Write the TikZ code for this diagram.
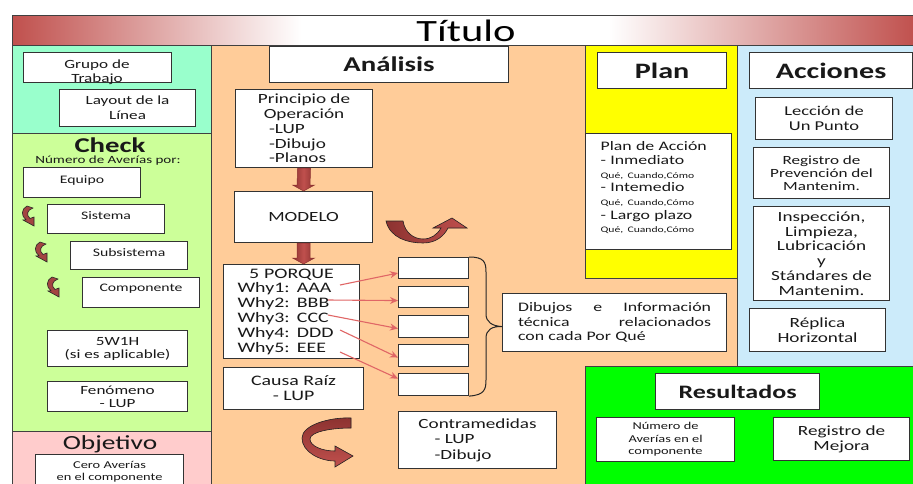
\documentclass[tikz,border=0pt]{standalone}
\usepackage{fontspec}
\setmainfont{Carlito}[FakeStretch=1.37]
\usetikzlibrary{calc,arrows.meta}
\definecolor{rd}{HTML}{C0504D}
\definecolor{rdd}{HTML}{8C3230}
\definecolor{mint}{HTML}{99FFCC}
\definecolor{lgreen}{HTML}{CCFF99}
\definecolor{pinkc}{HTML}{FFCCCC}
\definecolor{peach}{HTML}{FFCC99}
\definecolor{yel}{HTML}{FFFF00}
\definecolor{lblue}{HTML}{CCEBFA}
\definecolor{bgreen}{HTML}{00FF00}
\definecolor{arr}{HTML}{E06666}
\pgfdeclarehorizontalshading{titlesh}{100bp}{color(0bp)=(rd); color(25bp)=(rd); color(41bp)=(white); color(58bp)=(white); color(75bp)=(rd); color(100bp)=(rd)}
\newcommand\myfs[2]{\fontsize{#1}{#2}\selectfont}
\newcommand\blkarrow[2]{%
  \path[blockarrow] ([xshift=-6.5pt]#1) -- ([xshift=-6.5pt,yshift=6pt]#2) -- ([xshift=-11pt,yshift=6pt]#2) -- (#2) -- ([xshift=11pt,yshift=6pt]#2) -- ([xshift=6.5pt,yshift=6pt]#2) -- ([xshift=6.5pt]#1) -- cycle;}
\begin{document}
\begin{tikzpicture}[x=1pt,y=-1pt,
  box/.style={draw=black!80, line width=1.1pt, fill=white, inner sep=0pt, anchor=north west, align=center, text=black!90},
  sect/.style={draw=black!75, line width=0.8pt},
  whyarrow/.style={draw=arr, line width=1.1pt, -{Stealth[length=8pt,width=7pt]}},
  ribbon/.style={draw=black!85, line width=0.6pt, fill=rd},
  blockarrow/.style={draw=rdd, line width=0.5pt, left color=rdd, right color=rdd, middle color=rd},
  carrow/.pic={\filldraw[ribbon, fill=rd!85!black] (5,0) -- (11,2) .. controls (5,4) and (4,9) .. (8,12.5) -- (12,11) -- (12,20) -- (1,14) -- (4,13.8) .. controls (-1,10) and (-1,3) .. (5,0) -- cycle;}
]
\useasboundingbox (0,0) rectangle (913,483);
\fill[white] (0,0) rectangle (913,483);
% sections
\path[sect, fill=peach] (211,45) rectangle (737,490);
\path[sect, fill=mint] (12,45) rectangle (211,133);
\path[sect, fill=lgreen] (12,133) rectangle (211,431);
\path[sect, fill=pinkc] (12,431) rectangle (211,490);
\path[sect, fill=yel] (585,45) rectangle (737,278);
\path[sect, fill=lblue] (737,45) rectangle (916,366);
\path[sect, fill=bgreen] (585,366) rectangle (916,490);
\path[sect, shading=titlesh] (12,15) rectangle (916,45);
\draw[black!75, line width=0.8pt] (12,15) rectangle (916,45);
\node[font=\myfs{31}{31}, text=black] (title) at (466,31) {Título};

% left column
\node[box, minimum width=148pt, minimum height=30pt] (grupo) at (23,52) {};
\node[font=\myfs{12.5}{14}, align=center, text=black!90] (grupot) at (97,72) {Grupo de\\Trabajo};
\node[box, minimum width=136pt, minimum height=37pt, font=\myfs{12.5}{15}] (layout) at (59,89) {Layout de la\\Línea};
\node[font=\bfseries\myfs{21}{21}, text=black!90] (check) at (110,145) {Check};
\node[font=\myfs{11}{11}, text=black!90] (numav) at (108,161) {Número de Averías por:};
\node[box, minimum width=117pt, minimum height=30pt, font=\myfs{11.5}{12}] (equipo) at (23,167) {Equipo\\[-5pt]\mbox{}};
\node[box, minimum width=117pt, minimum height=29pt, font=\myfs{11.5}{12}] (sistema) at (47,204) {Sistema\\[-5pt]\mbox{}};
\node[box, minimum width=117pt, minimum height=28pt, font=\myfs{11.5}{12}] (subsis) at (70,241) {Subsistema\\[-5pt]\mbox{}};
\node[box, minimum width=117pt, minimum height=30pt, font=\myfs{11.5}{12}] (comp) at (82,277) {Componente\\[-3pt]\mbox{}};
\pic at (22,206) {carrow};
\pic at (35,242) {carrow};
\pic at (47,277) {carrow};
\node[box, minimum width=140pt, minimum height=36pt, font=\myfs{12.5}{13}] (w1h) at (47,330) {5W1H\\(si es aplicable)};
\node[box, minimum width=140pt, minimum height=30pt, font=\myfs{12.5}{13}] (fen) at (47,381) {Fenómeno\\- LUP};
\node[font=\myfs{20}{20}, text=black!90] (objt) at (110,444) {Objetivo};
\node[box, minimum width=148pt, minimum height=34pt, font=\myfs{10.5}{12}] (cero) at (35,454) {Cero Averías\\en el componente};

% analysis
\node[box, minimum width=239pt, minimum height=36pt, font=\bfseries\myfs{21}{21}] (anal) at (269,46) {Análisis};
\node[box, minimum width=137pt, minimum height=78pt, font=\myfs{14}{14.7}] (prin) at (235,89) {Principio de\\Operación\\\makebox[70pt][l]{-LUP}\\\makebox[70pt][l]{-Dibujo}\\\makebox[70pt][l]{-Planos}};
\node[box, minimum width=138pt, minimum height=51pt, font=\myfs{14}{14}] (modelo) at (234,191) {MODELO};
\node[box, minimum width=136pt, minimum height=94pt, text width=108pt, align=left, font=\myfs{14.5}{14.8}] (porque) at (223,264) {\makebox[108pt]{5 PORQUE}\\Why1: AAA\\Why2: BBB\\Why3: CCC\\Why4: DDD\\Why5: EEE};
\node[box, minimum width=140pt, minimum height=42pt, font=\myfs{14.5}{15}] (causa) at (223,367) {Causa Raíz\\- LUP};
\node[box, minimum width=158pt, minimum height=57pt, font=\myfs{14}{15.5}] (contra) at (398,411) {Contramedidas\\\makebox[86pt][l]{- LUP}\\\makebox[86pt][l]{-Dibujo}};
\node[box, minimum width=70pt, minimum height=21pt] (b1) at (398,257) {};
\node[box, minimum width=70pt, minimum height=21pt] (b2) at (398,286) {};
\node[box, minimum width=70pt, minimum height=22pt] (b3) at (398,315) {};
\node[box, minimum width=70pt, minimum height=22pt] (b4) at (398,344) {};
\node[box, minimum width=70pt, minimum height=22pt] (b5) at (398,373) {};
\node[box, minimum width=224pt, minimum height=58pt, text width=193pt, align=left, font=\myfs{13}{14.5}] (dib) at (502,293) {Dibujos\hspace{\fill}e\hspace{\fill}Información\\técnica\hspace{\fill}relacionados\\con cada Por Qué};

\coordinate (ptip) at (modelo.south |- porque.north);
\blkarrow{prin.south}{modelo.north}
\blkarrow{modelo.south}{ptip}

\coordinate (s1) at (340,285);
\coordinate (s2) at (328,300);
\coordinate (s3) at (328,315);
\coordinate (s4) at (340,330);
\coordinate (s5) at (340,352);
\draw[whyarrow] (s1) -- ([yshift=-5pt]b1.west);
\draw[whyarrow] (s2) -- ([yshift=-3.5pt]b2.west);
\draw[whyarrow] (s3) -- ([yshift=-2pt]b3.west);
\draw[whyarrow] (s4) -- ([yshift=-2pt]b4.west);
\draw[whyarrow] (s5) -- ([yshift=6pt]b5.west);

\draw[black!85, line width=1pt] (b1.north east) .. controls (484,257) and (486,262) .. (486,272) -- (486,314) .. controls (486,322) and (492,326) .. ([yshift=-4pt]dib.west) .. controls (492,326) and (486,330) .. (486,338) -- (486,380) .. controls (486,390) and (484,395) .. (b5.south east);

% curved ribbon arrows
\filldraw[ribbon, left color=rdd, right color=rd] (386,221) .. controls (390,238) and (408,243) .. (423,243) .. controls (436,243) and (444,236) .. (448,228) -- (467,228) -- (452,218) -- (433,228) -- (441,228) .. controls (437,235) and (431,239) .. (423,239) .. controls (414,239) and (405,233) .. (403,221) -- cycle;
\filldraw[ribbon, top color=rdd, bottom color=rd] (351,418) .. controls (330,417) and (302,425) .. (302,438) .. controls (302,452) and (320,461) .. (335,461) -- (335,467) -- (353,456) -- (335,446) -- (335,451) .. controls (322,451) and (310,446) .. (310,439) .. controls (310,432) and (330,428) .. (351,428) -- cycle;

% plan
\node[box, minimum width=129pt, minimum height=36pt, font=\bfseries\myfs{22}{22}] (plan) at (597,52) {Plan};
\node[box, minimum width=146pt, minimum height=116pt, text width=116pt, align=left, font=\myfs{13}{13.7}] (pacc) at (585,133) {Plan de Acción\\- Inmediato\\{\myfs{8.5}{13.7}Qué, Cuando,Cómo}\\- Intemedio\\{\myfs{8.5}{13.7}Qué, Cuando,Cómo}\\- Largo plazo\\{\myfs{8.5}{13.7}Qué, Cuando,Cómo}\\[-5pt]\mbox{}};

% acciones
\node[box, minimum width=163pt, minimum height=36pt, font=\bfseries\myfs{22}{22}] (acc) at (749,52) {Acciones};
\node[box, minimum width=137pt, minimum height=42pt, font=\myfs{13.5}{15}] (lecc) at (755,97) {Lección de\\Un Punto};
\node[box, minimum width=136pt, minimum height=51pt, font=\myfs{12.5}{13}] (regp) at (753,147) {Registro de\\Prevención del\\Mantenim.};
\node[box, minimum width=136pt, minimum height=94pt, font=\myfs{14}{14.8}] (insp) at (753,206) {Inspección,\\Limpieza,\\Lubricación\\y\\Stándares de\\Mantenim.};
\node[box, minimum width=136pt, minimum height=43pt, font=\myfs{14}{15}] (repl) at (749,308) {Réplica\\Horizontal};

% resultados
\node[box, minimum width=164pt, minimum height=36pt, font=\bfseries\myfs{19}{19}] (res) at (655,373) {Resultados};
\node[box, minimum width=138pt, minimum height=44pt, font=\myfs{10.5}{12.5}] (nav) at (596,417) {Número de\\Averías en el\\componente};
\node[box, minimum width=136pt, minimum height=43pt, font=\myfs{14}{15}] (mej) at (773,417) {Registro de\\Mejora};
\end{tikzpicture}
\end{document}
